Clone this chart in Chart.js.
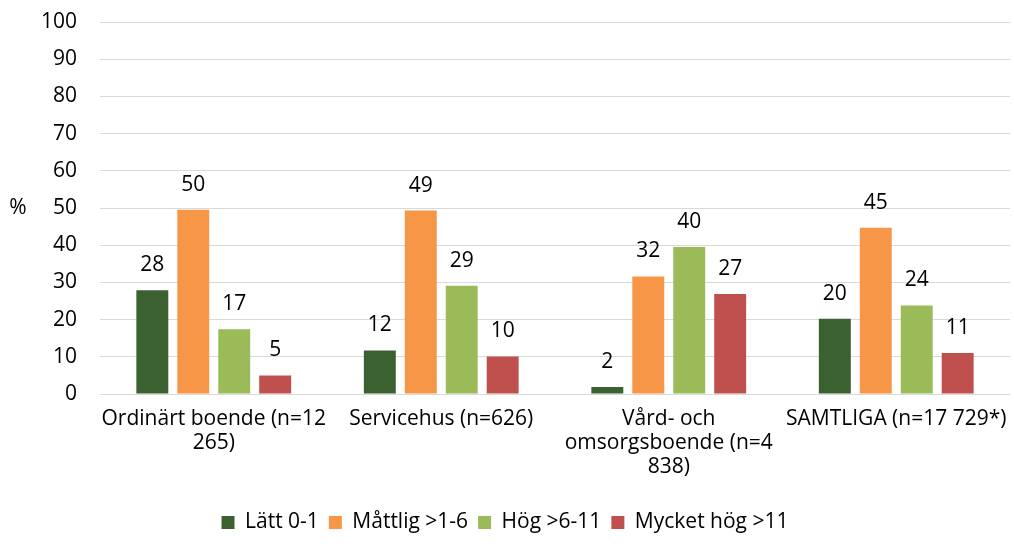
<!DOCTYPE html>
<html>
<head>
<meta charset="utf-8">
<script src="https://cdn.jsdelivr.net/npm/chart.js@4/dist/chart.umd.min.js"></script>
<style>
html,body{margin:0;padding:0;background:#fff;}
canvas{display:block;}
</style>
</head>
<body>
<canvas id="c" width="1014" height="547"></canvas>
<script>
const categories = [
  ["Ordinärt boende (n=12", "265)"],
  "Servicehus (n=626)",
  ["Vård- och", "omsorgsboende (n=4", "838)"],
  "SAMTLIGA (n=17 729*)"
];
const seriesNames = ["Lätt 0-1", "Måttlig >1-6", "Hög >6-11", "Mycket hög >11"];
const lattValues = [27.9, 11.7, 1.9, 20.2];
const mattligValues = [49.5, 49.3, 31.6, 44.7];
const hogValues = [17.4, 29.1, 39.5, 23.8];
const mycketHogValues = [5.0, 10.1, 26.9, 11.0];
const yTicks = [0, 10, 20, 30, 40, 50, 60, 70, 80, 90, 100];
const colors = ["#3B6130", "#F79646", "#9BBB59", "#C0504D"];

const FONT = "'Open Sans', sans-serif";
const FS = 21;

const valueLabels = {
  id: 'valueLabels',
  afterDatasetsDraw(chart) {
    const ctx = chart.ctx;
    ctx.save();
    ctx.font = FS + "px " + FONT;
    ctx.fillStyle = "#000";
    ctx.textAlign = "center";
    ctx.textBaseline = "middle";
    chart.data.datasets.forEach((ds, i) => {
      const meta = chart.getDatasetMeta(i);
      meta.data.forEach((bar, j) => {
        ctx.fillText(String(Math.round(ds.data[j])), bar.x, bar.y - 25);
      });
    });
    ctx.restore();
  }
};

const pctTitle = {
  id: 'pctTitle',
  afterDraw(chart) {
    const ctx = chart.ctx;
    const a = chart.chartArea;
    ctx.save();
    ctx.font = FS + "px " + FONT;
    ctx.fillStyle = "#000";
    ctx.textAlign = "center";
    ctx.textBaseline = "middle";
    ctx.fillText("%", 18, (a.top + a.bottom) / 2);
    ctx.restore();
  }
};

new Chart(document.getElementById('c'), {
  type: 'bar',
  data: {
    labels: categories,
    datasets: [lattValues, mattligValues, hogValues, mycketHogValues].map((d, i) => ({
      label: seriesNames[i],
      data: d,
      backgroundColor: colors[i],
      borderWidth: 0,
      barPercentage: 0.78,
      categoryPercentage: 0.72
    }))
  },
  options: {
    responsive: false,
    animation: false,
    layout: { padding: { left: 0, right: 4, top: 22, bottom: 4 } },
    plugins: {
      legend: {
        position: 'bottom',
        labels: {
          font: { family: FONT, size: FS },
          color: "#000",
          boxWidth: 13,
          boxHeight: 13,
          padding: 10
        }
      },
      tooltip: { enabled: false }
    },
    scales: {
      x: {
        grid: { display: false },
        border: { display: false },
        ticks: {
          color: "#000",
          font: { family: FONT, size: FS, lineHeight: 1.15 },
          maxRotation: 0,
          autoSkip: false,
          padding: 5
        },
        afterFit(s) { s.height = 108; }
      },
      y: {
        min: 0, max: 100,
        afterBuildTicks(s) { s.ticks = yTicks.map(v => ({ value: v })); },
        grid: { color: "#D9D9D9", lineWidth: 1, drawTicks: false },
        border: { display: false },
        ticks: {
          color: "#000",
          font: { family: FONT, size: FS },
          padding: 23
        },
        afterFit(s) { s.width = 100; s.paddingTop = 0; s.paddingBottom = 0; }
      }
    }
  },
  plugins: [valueLabels, pctTitle]
});
</script>
</body>
</html>
